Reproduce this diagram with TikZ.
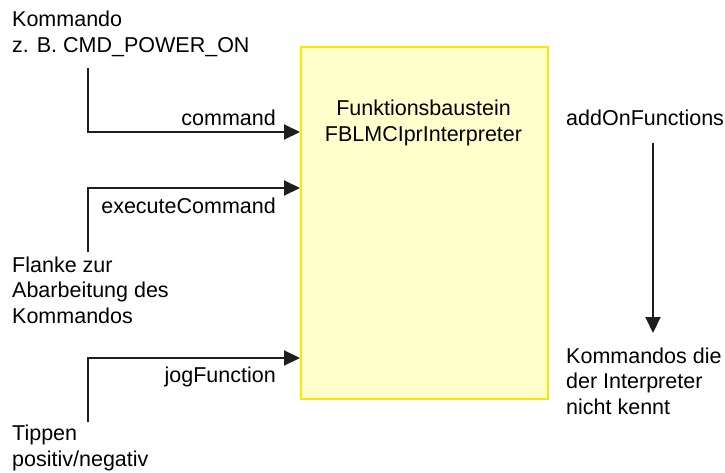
\documentclass[tikz,border=0pt]{standalone}
\usepackage{fontspec}
\setmainfont{Liberation Sans}
\usetikzlibrary{arrows.meta}
\definecolor{fbfill}{HTML}{FFFFCC}
\definecolor{fbedge}{HTML}{FFE600}
\definecolor{wire}{HTML}{1E1E1E}
\tikzset{
  lbl/.style={inner sep=0pt, align=left, font=\fontsize{21.5pt}{25.5pt}\selectfont, text=black},
  clbl/.style={lbl, align=center},
  wirearrow/.style={draw=wire, line width=2pt, -{Triangle[length=16pt,width=15pt]}},
  fblock/.style={draw=fbedge, fill=fbfill, line width=2pt, minimum width=247pt, minimum height=352pt, inner sep=0pt}
}
\begin{document}
\begin{tikzpicture}[x=1pt, y=-1pt]
\useasboundingbox (0,0) rectangle (725,472);

% function block
\node[fblock, anchor=north west] (fb) at (300,46) {};
% multi-line nodes are placed by the baseline of their last line
\node[clbl, anchor=base] (fbname) at (423.5,141) {Funktionsbaustein\\FBLMCIprInterpreter};

% inputs
\node[lbl, anchor=base west] (cmdsrc) at (12,52) {Kommando\\z. B. CMD\_POWER\_ON};
\node[lbl, anchor=base west] (exesrc) at (12,323) {Flanke zur\\Abarbeitung des\\Kommandos};
\node[lbl, anchor=base west] (jogsrc) at (12,466) {Tippen\\positiv/negativ};

\coordinate (cmdtop) at (88,68);
\coordinate (exebot) at (88,252);
\coordinate (jogbot) at (88,422);

\draw[wirearrow] (cmdtop) |- (fb.west |- 0,132);
\draw[wirearrow] (exebot) |- (fb.west |- 0,188);
\draw[wirearrow] (jogbot) |- (fb.west |- 0,358);

\node[lbl, anchor=base east] (cmdlbl) at (276,125) {command};
\node[lbl, anchor=base east] (exelbl) at (276,213) {executeCommand};
\node[lbl, anchor=base east] (joglbl) at (276,382) {jogFunction};

% output
\node[lbl, anchor=base west] (addon) at (566,125) {addOnFunctions};
\node[lbl, anchor=base west] (unknown) at (566,414) {Kommandos die\\der Interpreter\\nicht kennt};
\coordinate (addtop) at (653,143);
\coordinate (addtip) at (653,333);
\draw[wirearrow] (addtop) -- (addtip);
\end{tikzpicture}
\end{document}
